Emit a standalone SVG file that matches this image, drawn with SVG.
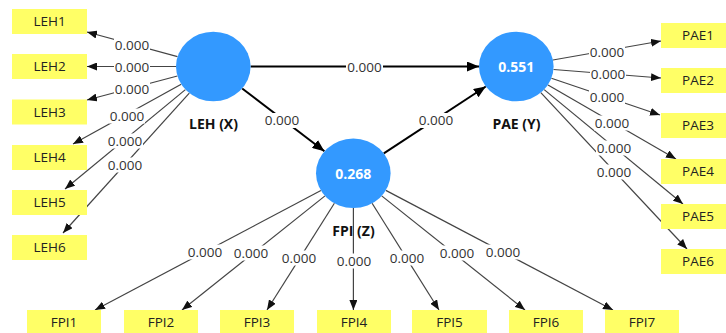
<svg xmlns="http://www.w3.org/2000/svg" width="726" height="333" viewBox="0 0 726 333">
<defs>
<marker id="ah" viewBox="0 0 10 8" refX="10" refY="4" markerWidth="10" markerHeight="8" markerUnits="userSpaceOnUse" orient="auto"><path d="M0,0 L10,4 L0,8 z" fill="#111"/></marker>
<marker id="ahb" viewBox="0 0 12 10" refX="12" refY="5" markerWidth="12" markerHeight="10" markerUnits="userSpaceOnUse" orient="auto"><path d="M0,0 L12,5 L0,10 z" fill="#000"/></marker>
<style>
.ind{stroke:#444;stroke-width:1.2;fill:none;marker-end:url(#ah)}
.str{stroke:#000;stroke-width:2;fill:none;marker-end:url(#ahb)}
.box{fill:#FFFF66}
.bt{font-family:"Open Sans","Noto Sans",sans-serif;font-size:13.5px;fill:#222;text-anchor:middle}
.lv{font-family:"Open Sans","Noto Sans",sans-serif;font-size:13.5px;fill:#333;text-anchor:middle}
.lb{fill:#fff}
.lat{fill:#3399FF}
.cn{font-family:"Open Sans","Noto Sans",sans-serif;font-size:14px;font-weight:bold;fill:#fff;text-anchor:middle}
.nm{font-family:"Open Sans","Noto Sans",sans-serif;font-size:14px;font-weight:bold;fill:#111;text-anchor:middle}
</style>
</defs>
<rect width="726" height="333" fill="#fff"/>
<g id="connectors">
<line class="ind" x1="177.5" y1="56.7" x2="87" y2="32"/>
<line class="ind" x1="176" y1="66.5" x2="87" y2="66.5"/>
<line class="ind" x1="177.4" y1="76" x2="87" y2="100"/>
<line class="ind" x1="181.2" y1="84.2" x2="73" y2="144"/>
<line class="ind" x1="185.4" y1="89.6" x2="65" y2="189"/>
<line class="ind" x1="189.3" y1="93.1" x2="63" y2="233"/>
<line class="ind" x1="552.9" y1="60" x2="661" y2="41"/>
<line class="ind" x1="553.5" y1="69.5" x2="661" y2="78"/>
<line class="ind" x1="551.4" y1="78.3" x2="660" y2="115"/>
<line class="ind" x1="548" y1="84.9" x2="676" y2="159"/>
<line class="ind" x1="544.2" y1="89.6" x2="683" y2="204"/>
<line class="ind" x1="540.8" y1="92.7" x2="687" y2="249"/>
<line class="ind" x1="320.9" y1="190.5" x2="95" y2="310"/>
<line class="ind" x1="325" y1="195.9" x2="182" y2="310"/>
<line class="ind" x1="334.4" y1="203.3" x2="267" y2="310"/>
<line class="ind" x1="353.4" y1="208.1" x2="353.4" y2="310"/>
<line class="ind" x1="372.1" y1="203.3" x2="439" y2="310"/>
<line class="ind" x1="381.7" y1="195.9" x2="525" y2="310"/>
<line class="ind" x1="385.8" y1="190.4" x2="613" y2="310"/>
<line class="str" x1="250.6" y1="66.5" x2="479" y2="66.5"/>
<line class="str" x1="242.2" y1="88.5" x2="324.4" y2="151.3"/>
<line class="str" x1="383.8" y1="153.3" x2="485.8" y2="86.5"/>
<g id="labels">
<rect class="lb" x="114" y="37" width="36" height="15"/><text class="lv" x="132" y="49.5">0.000</text>
<rect class="lb" x="114" y="60" width="36" height="15"/><text class="lv" x="132" y="72">0.000</text>
<rect class="lb" x="114" y="81.5" width="36" height="15"/><text class="lv" x="132" y="93.5">0.000</text>
<rect class="lb" x="109" y="108.5" width="36" height="15"/><text class="lv" x="127" y="120.5">0.000</text>
<rect class="lb" x="107" y="133.5" width="36" height="15"/><text class="lv" x="125" y="145.5">0.000</text>
<rect class="lb" x="107" y="157.5" width="36" height="15"/><text class="lv" x="125" y="169.5">0.000</text>
<rect class="lb" x="589" y="44.5" width="36" height="15"/><text class="lv" x="607" y="56.5">0.000</text>
<rect class="lb" x="590" y="66.5" width="36" height="15"/><text class="lv" x="608" y="78.5">0.000</text>
<rect class="lb" x="589" y="89.5" width="36" height="15"/><text class="lv" x="607" y="101.5">0.000</text>
<rect class="lb" x="594" y="115.5" width="36" height="15"/><text class="lv" x="612" y="127.5">0.000</text>
<rect class="lb" x="596" y="140.5" width="36" height="15"/><text class="lv" x="614" y="152.5">0.000</text>
<rect class="lb" x="596" y="164.5" width="36" height="15"/><text class="lv" x="614" y="176.5">0.000</text>
<rect class="lb" x="187" y="244.5" width="36" height="15"/><text class="lv" x="205" y="256.5">0.000</text>
<rect class="lb" x="233" y="245.5" width="36" height="15"/><text class="lv" x="251" y="257.5">0.000</text>
<rect class="lb" x="281" y="250.5" width="36" height="15"/><text class="lv" x="299" y="262.5">0.000</text>
<rect class="lb" x="336" y="253.5" width="36" height="15"/><text class="lv" x="354" y="265.5">0.000</text>
<rect class="lb" x="389" y="250.5" width="36" height="15"/><text class="lv" x="407" y="262.5">0.000</text>
<rect class="lb" x="439" y="245.5" width="36" height="15"/><text class="lv" x="457" y="257.5">0.000</text>
<rect class="lb" x="485" y="244.5" width="36" height="15"/><text class="lv" x="503" y="256.5">0.000</text>
<rect class="lb" x="346" y="59.5" width="37" height="15"/><text class="lv" x="364.5" y="71.5">0.000</text>
<rect class="lb" x="264" y="113" width="36" height="15"/><text class="lv" x="282" y="125">0.000</text>
<rect class="lb" x="418" y="113" width="36" height="15"/><text class="lv" x="436" y="125">0.000</text>
</g>
</g>
<g id="LEH_X">
<ellipse class="lat" cx="213.3" cy="66.5" rx="37.3" ry="34.8"/>
<text class="nm" x="213.5" y="129">LEH (X)</text>
</g>
<g id="PAE_Y">
<ellipse class="lat" cx="516.3" cy="66.5" rx="37.3" ry="34.8"/>
<text class="cn" x="516.3" y="71.5">0.551</text>
<text class="nm" x="516.5" y="129">PAE (Y)</text>
</g>
<g id="FPI_Z">
<ellipse class="lat" cx="353.3" cy="173.3" rx="37.3" ry="34.8"/>
<text class="cn" x="353.3" y="178.5">0.268</text>
<text class="nm" x="353.5" y="236">FPI (Z)</text>
</g>
<g id="LEH1"><rect class="box" x="12" y="9" width="75" height="25"/><text class="bt" x="49.5" y="26">LEH1</text></g>
<g id="LEH2"><rect class="box" x="12" y="54" width="75" height="25"/><text class="bt" x="49.5" y="71">LEH2</text></g>
<g id="LEH3"><rect class="box" x="12" y="99.5" width="75" height="25"/><text class="bt" x="49.5" y="116.5">LEH3</text></g>
<g id="LEH4"><rect class="box" x="12" y="145" width="75" height="25"/><text class="bt" x="49.5" y="162">LEH4</text></g>
<g id="LEH5"><rect class="box" x="12" y="190" width="75" height="25"/><text class="bt" x="49.5" y="207">LEH5</text></g>
<g id="LEH6"><rect class="box" x="12" y="235" width="75" height="25"/><text class="bt" x="49.5" y="252">LEH6</text></g>
<g id="PAE1"><rect class="box" x="661" y="23" width="75" height="25"/><text class="bt" x="698" y="40">PAE1</text></g>
<g id="PAE2"><rect class="box" x="661" y="68" width="75" height="25"/><text class="bt" x="698" y="85">PAE2</text></g>
<g id="PAE3"><rect class="box" x="661" y="113" width="75" height="25"/><text class="bt" x="698" y="130">PAE3</text></g>
<g id="PAE4"><rect class="box" x="661" y="159" width="75" height="25"/><text class="bt" x="698" y="176">PAE4</text></g>
<g id="PAE5"><rect class="box" x="661" y="204" width="75" height="25"/><text class="bt" x="698" y="221">PAE5</text></g>
<g id="PAE6"><rect class="box" x="661" y="249" width="75" height="25"/><text class="bt" x="698" y="266">PAE6</text></g>
<g id="FPI1"><rect class="box" x="27" y="310" width="74" height="25"/><text class="bt" x="64" y="327">FPI1</text></g>
<g id="FPI2"><rect class="box" x="124" y="310" width="74" height="25"/><text class="bt" x="161" y="327">FPI2</text></g>
<g id="FPI3"><rect class="box" x="220" y="310" width="74" height="25"/><text class="bt" x="257" y="327">FPI3</text></g>
<g id="FPI4"><rect class="box" x="317" y="310" width="74" height="25"/><text class="bt" x="354" y="327">FPI4</text></g>
<g id="FPI5"><rect class="box" x="412" y="310" width="75" height="25"/><text class="bt" x="449.5" y="327">FPI5</text></g>
<g id="FPI6"><rect class="box" x="509" y="310" width="74" height="25"/><text class="bt" x="546" y="327">FPI6</text></g>
<g id="FPI7"><rect class="box" x="605" y="310" width="74" height="25"/><text class="bt" x="642" y="327">FPI7</text></g>
</svg>
